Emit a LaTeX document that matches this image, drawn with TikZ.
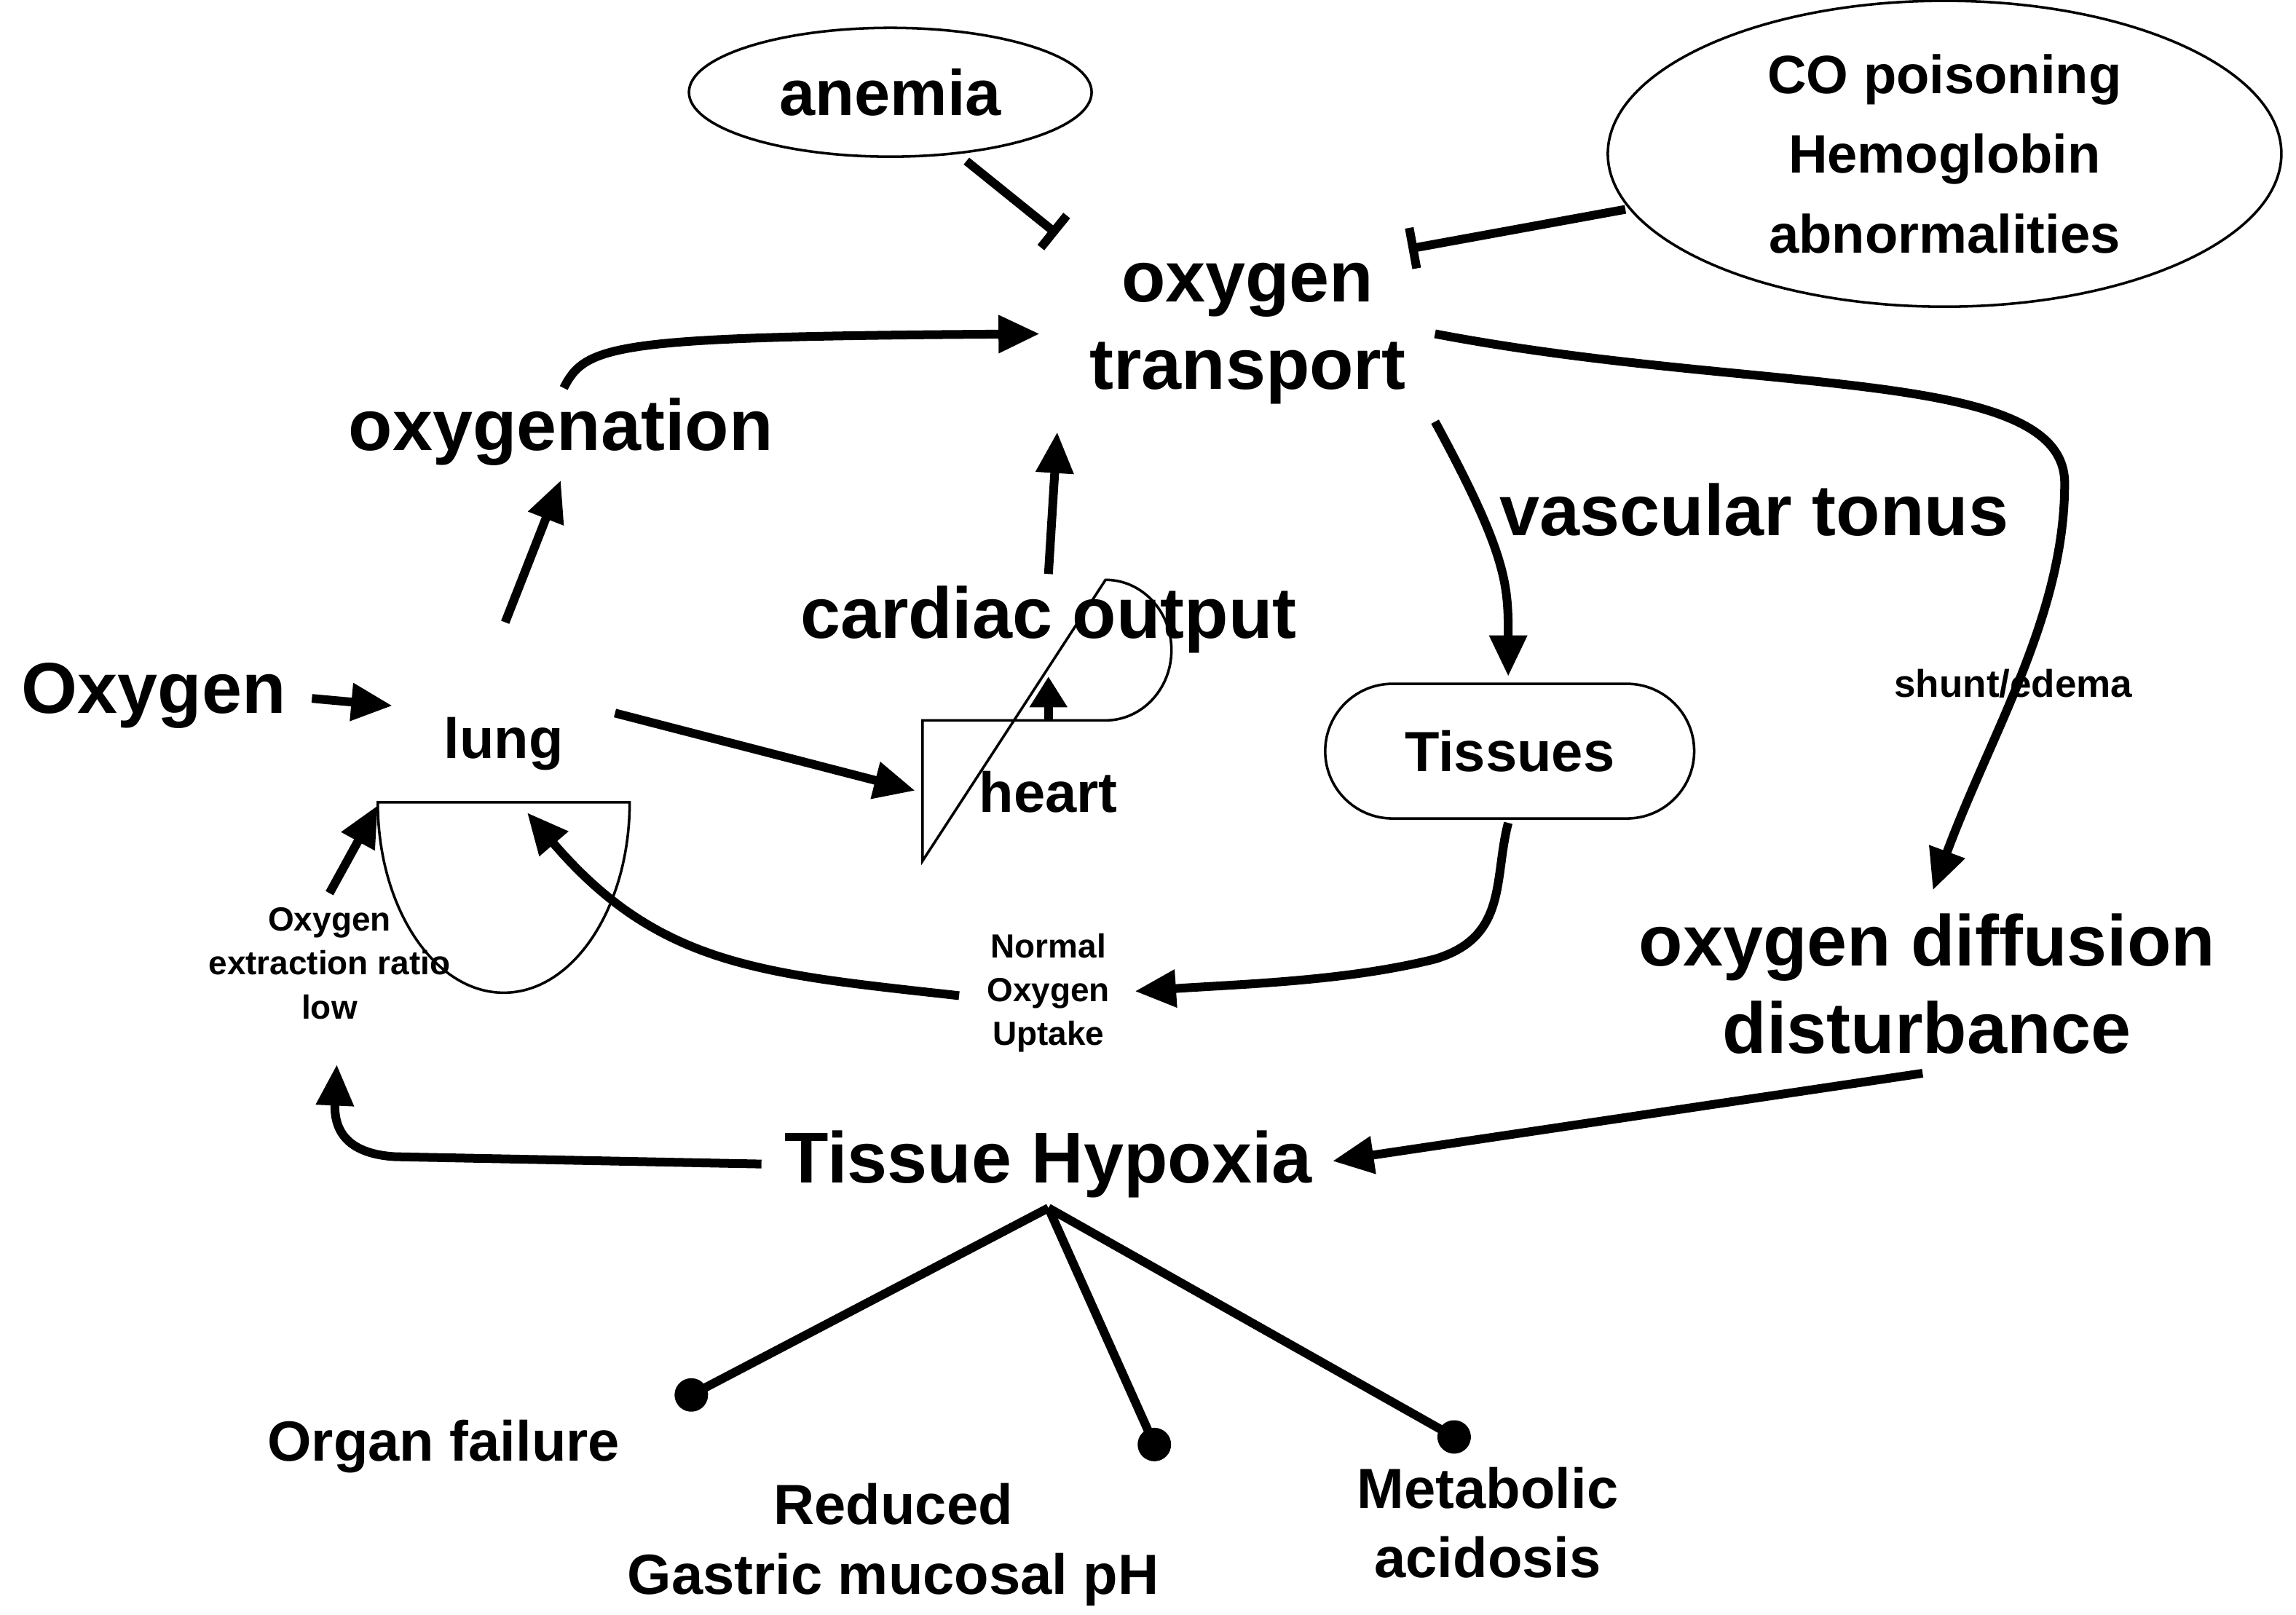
\documentclass[tikz,border=0pt]{standalone}
\usepackage{fontspec}
\setmainfont{Liberation Sans}
\usetikzlibrary{arrows.meta,shapes.geometric}
\begin{document}
\begin{tikzpicture}[x=0.02cm,y=-0.02cm,font=\bfseries,
  conn/.style={line width=3.4pt,-{Triangle[length=16pt,width=14pt]}},
  inh/.style={line width=3.4pt,-{Bar[width=16pt]}},
  dot/.style={line width=3.4pt,-{Circle[length=13pt]}},
  big/.style={font=\fontsize{28}{34}\selectfont\bfseries,align=center},
  med/.style={font=\fontsize{22}{27}\selectfont\bfseries,align=center},
  sm/.style={font=\fontsize{15}{19}\selectfont\bfseries,align=center},
  tiny/.style={font=\fontsize{13}{17}\selectfont\bfseries,align=center},
  shp/.style={draw,line width=1pt}]
\useasboundingbox (0,0) rectangle (1568,1103);
\node[shp,ellipse,minimum width=275*0.02cm,minimum height=88*0.02cm,big,font=\fontsize{25}{30}\selectfont\bfseries] (an) at (608,63) {anemia};
\node[shp,ellipse,minimum width=460*0.02cm,minimum height=190*0.02cm,font=\fontsize{21}{31}\selectfont\bfseries,align=center] (co) at (1328,105) {CO poisoning\\Hemoglobin\\abnormalities};
\node[big] (ot) at (852,228) {oxygen\\transport};
\node[big] (og) at (383,295) {oxygenation};
\node[big] (ox) at (105,475) {Oxygen};
\draw[shp] (258,548) -- (430,548) arc[start angle=0,end angle=180,x radius=86,y radius=130] -- cycle;
\node[med] (lung) at (344,508) {lung};
\draw[shp] (630,492) -- (755,492) arc[start angle=90,end angle=-90,x radius=45,y radius=48] -- (630,588) -- cycle;
\node[med] (heart) at (716,541) {heart};
\node[big] (cd) at (716,423) {cardiac output};
\node[shp,rounded corners=46*0.02cm,minimum width=252*0.02cm,minimum height=92*0.02cm,med] (ti) at (1031,513) {Tissues};
\node[big] (vt) at (1198,348) {vascular tonus};
\node[sm] (sh) at (1375,467) {shunt/edema};
\node[big] (od) at (1316,672) {oxygen diffusion\\disturbance};
\node[big] (th) at (716,795) {Tissue Hypoxia};
\node[tiny] (ex) at (225,658) {Oxygen\\extraction ratio\\low};
\node[tiny] (nu) at (716,678) {Normal\\Oxygen\\Uptake};
\node[med] (of) at (303,988) {Organ failure};
\node[med] (rg) at (610,1055) {Reduced\\Gastric mucosal pH};
\node[med] (ma) at (1016,1040) {Metabolic\\acidosis};
\coordinate (hy) at (716,825);
\coordinate (d1) at (462,958);
\coordinate (d2) at (793,997);
\coordinate (d3) at (1003,987);
\draw[inh] (660,110) -- (722,160);
\draw[inh] (1110,143) -- (962,170);
\draw[conn] (385,265) .. controls (400,235) and (420,230) .. (710,228);
\draw[conn] (213,477) -- (268,482);
\draw[conn] (345,425) -- (383,328);
\draw[conn] (420,487) -- (625,540);
\draw[line width=3.4pt,-{Triangle[length=12pt,width=14pt]}] (716,492) -- (716,462);
\draw[conn] (716,392) -- (722,295);
\draw[conn] (980,288) .. controls (1030,380) and (1030,400) .. (1030,462);
\draw[conn] (980,228) .. controls (1200,270) and (1410,250) .. (1410,330) .. controls (1410,420) and (1360,500) .. (1320,608);
\draw[conn] (1313,733) -- (910,793);
\draw[conn] (520,795) -- (270,790) .. controls (235,788) and (228,770) .. (230,727);
\draw[conn] (225,610) -- (258,550);
\draw[conn] (1030,562) .. controls (1020,600) and (1030,640) .. (980,655) .. controls (920,670) and (850,672) .. (775,677);
\draw[conn] (655,680) .. controls (520,665) and (450,660) .. (360,555);
\draw[dot] (hy) -- (d1);
\draw[dot] (hy) -- (d2);
\draw[dot] (hy) -- (d3);
\end{tikzpicture}
\end{document}
